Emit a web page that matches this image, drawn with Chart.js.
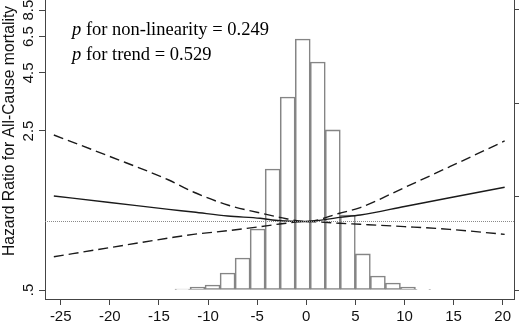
<!DOCTYPE html>
<html>
<head>
  <meta charset="utf-8" />
  <title>HR spline</title>
  <script src="https://cdn.jsdelivr.net/npm/chart.js@4.4.1/dist/chart.umd.min.js"></script>
  <style>
    body { margin: 0; background: #ffffff; }
    #wrap { width: 521px; height: 325px; position: relative; }
  </style>
</head>
<body>
  <div id="wrap"><canvas id="hrChart"></canvas></div>
  <script>
    // axis ticks
    var xTicks = [-25, -20, -15, -10, -5, 0, 5, 10, 15, 20];
    var yTicks = [0.5, 2.5, 4.5, 6.5, 8.5];
    var yTickLabels = ['.5', '2.5', '4.5', '6.5', '8.5'];
    var histTicks = [0, 5, 10, 15];
    var yTitle = 'Hazard Ratio for All-Cause mortality';

    // spline estimate + 95% CI
    var splineX  = [-25.7, -20, -14, -11.5, -8, -4.7, -2.7, 0, 3.4, 5.5, 10, 14.6, 20.2];
    var hrEst    = [1.294, 1.213, 1.131, 1.101, 1.057, 1.033, 1.008, 1, 1.043, 1.068, 1.164, 1.272, 1.414];
    var hrLower  = [0.700, 0.768, 0.846, 0.878, 0.911, 0.949, 0.975, 1, 0.982, 0.972, 0.950, 0.924, 0.878];
    var hrUpper  = [2.400, 1.931, 1.522, 1.348, 1.182, 1.090, 1.043, 1, 1.087, 1.152, 1.410, 1.741, 2.259];

    // histogram of the exposure
    var binCenters = [-12.6, -11.07, -9.54, -8.01, -6.48, -4.95, -3.42, -1.89, -0.36, 1.17, 2.70, 4.23, 5.76, 7.29, 8.82, 10.35, 11.88];
    var binPct     = [0.05, 0.16, 0.27, 0.91, 1.71, 3.26, 6.47, 10.32, 13.42, 12.19, 8.56, 4.01, 1.93, 0.75, 0.37, 0.16, 0.04];

    function pts(xs, ys) {
      return xs.map(function (x, i) { return { x: x, y: ys[i] }; });
    }

    var labelPlugin = {
      id: 'labelPlugin',
      afterDraw: function (chart) {
        var ctx = chart.ctx;
        var y = chart.scales.y;
        ctx.save();
        ctx.fillStyle = '#111';
        ctx.textAlign = 'center';
        ctx.textBaseline = 'alphabetic';
        ctx.font = '15px "Liberation Sans", Arial, sans-serif';
        yTicks.forEach(function (v, i) {
          ctx.save();
          ctx.translate(33, y.getPixelForValue(v));
          ctx.rotate(-Math.PI / 2);
          ctx.fillText(yTickLabels[i], 0, 0);
          ctx.restore();
        });
        // axis title
        ctx.save();
        ctx.font = '15.7px "Liberation Sans", Arial, sans-serif';
        ctx.translate(13.5, 131);
        ctx.rotate(-Math.PI / 2);
        ctx.fillText(yTitle, 0, 0);
        ctx.restore();
        // p values
        ctx.textAlign = 'left';
        ctx.fillStyle = '#000';
        var lines = [' for non-linearity = 0.249', ' for trend = 0.529'];
        var base = [35, 60];
        lines.forEach(function (t, i) {
          ctx.font = 'italic 18.5px "Liberation Serif", "Times New Roman", serif';
          ctx.fillText('p', 72, base[i]);
          var w = ctx.measureText('p').width;
          ctx.font = '18.5px "Liberation Serif", "Times New Roman", serif';
          ctx.fillText(t, 72 + w, base[i]);
        });
        ctx.restore();
      }
    };

    var axisColor = '#444';

    new Chart(document.getElementById('hrChart'), {
      type: 'line',
      data: {
        datasets: [
          {
            label: 'ref',
            data: [{ x: -26.6, y: 1 }, { x: 21.15, y: 1 }],
            borderColor: '#8a8a8a',
            borderWidth: 1,
            borderDash: [1, 1],
            pointRadius: 0,
            yAxisID: 'y',
            order: 0
          },
          {
            label: 'HR',
            data: pts(splineX, hrEst),
            borderColor: '#1a1a1a',
            borderWidth: 1.4,
            pointRadius: 0,
            cubicInterpolationMode: 'monotone',
            yAxisID: 'y',
            order: 0
          },
          {
            label: 'lower',
            data: pts(splineX, hrLower),
            borderColor: '#1a1a1a',
            borderWidth: 1.4,
            borderDash: [10, 5],
            pointRadius: 0,
            cubicInterpolationMode: 'monotone',
            yAxisID: 'y',
            order: 0
          },
          {
            label: 'upper',
            data: pts(splineX, hrUpper),
            borderColor: '#1a1a1a',
            borderWidth: 1.4,
            borderDash: [10, 5],
            pointRadius: 0,
            cubicInterpolationMode: 'monotone',
            yAxisID: 'y',
            order: 0
          },
          {
            type: 'bar',
            label: 'hist',
            data: pts(binCenters, binPct),
            backgroundColor: '#ffffff',
            borderColor: '#858585',
            borderWidth: 1.6,
            borderSkipped: false,
            barPercentage: 1,
            categoryPercentage: 1,
            yAxisID: 'y2',
            order: 1
          }
        ]
      },
      options: {
        responsive: true,
        maintainAspectRatio: false,
        animation: false,
        layout: { padding: 0 },
        plugins: {
          legend: { display: false },
          tooltip: { enabled: false }
        },
        scales: {
          x: {
            type: 'linear',
            min: -26.6,
            max: 21.15,
            offset: false,
            afterBuildTicks: function (s) { s.ticks = xTicks.map(function (v) { return { value: v }; }); },
            afterFit: function (s) { s.height = 26; },
            grid: { drawOnChartArea: false, drawTicks: true, tickLength: 6, color: axisColor, offset: false },
            border: { display: true, color: axisColor, width: 1 },
            ticks: {
              color: '#111',
              padding: 3,
              maxRotation: 0,
              font: { family: '"Liberation Sans", Arial, sans-serif', size: 15 }
            }
          },
          y: {
            type: 'logarithmic',
            position: 'left',
            min: 0.4565,
            max: 9.41,
            afterBuildTicks: function (s) { s.ticks = yTicks.map(function (v) { return { value: v }; }); },
            afterFit: function (s) { s.width = 45; },
            grid: { drawOnChartArea: false, drawTicks: true, tickLength: 6, color: axisColor },
            border: { display: true, color: axisColor, width: 1 },
            ticks: { display: false }
          },
          y2: {
            type: 'linear',
            position: 'right',
            min: -0.481,
            max: 15.51,
            afterBuildTicks: function (s) { s.ticks = histTicks.map(function (v) { return { value: v }; }); },
            afterFit: function (s) { s.width = 7; },
            grid: { drawOnChartArea: false, drawTicks: true, tickLength: 5, color: axisColor },
            border: { display: true, color: axisColor, width: 1 },
            ticks: { display: false }
          }
        }
      },
      plugins: [labelPlugin]
    });
  </script>
</body>
</html>
